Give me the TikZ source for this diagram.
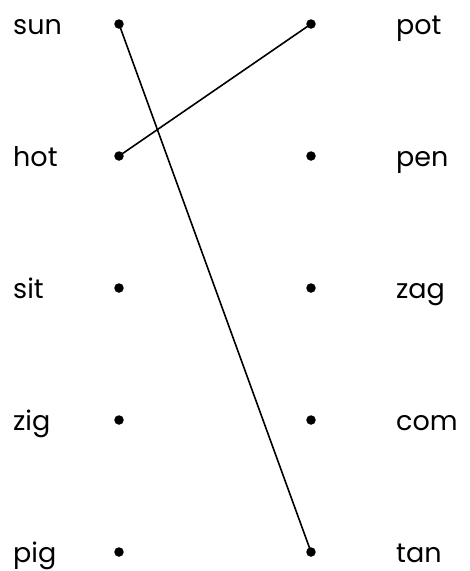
\documentclass[tikz,border=0pt]{standalone}
\usepackage{fontspec}
\setmainfont{Poppins}
\usepackage{tikz}
\usetikzlibrary{positioning}
\tikzset{
  word/.style={anchor=base west, inner sep=0pt, font=\fontsize{27}{32}\selectfont},
  dot/.style={circle, fill=black, inner sep=0pt, minimum size=9.5pt},
  link/.style={line width=1.6pt}
}

\begin{document}
\begin{tikzpicture}[x=1pt, y=-1pt]

    \useasboundingbox (0,0) rectangle (470,571);

    % Palabras de la izquierda
    \foreach \i/\w in {0/sun, 1/hot, 2/sit, 3/zig, 4/pig} {
        \node[word] (L\w) at (13, 34+\i*132) {\w};
        \node[dot] (DL\w) at (119, 24+\i*132) {};
    }

    % Palabras de la derecha
    \foreach \i/\w in {0/pot, 1/pen, 2/zag, 3/com, 4/tan} {
        \node[dot] (DR\w) at (311, 24+\i*132) {};
        \node[word] (R\w) at (396, 34+\i*132) {\w};
    }

    % Uniones
    \draw[link] (DLsun.center) -- (DRtan.center);
    \draw[link] (DLhot.center) -- (DRpot.center);

\end{tikzpicture}
\end{document}
